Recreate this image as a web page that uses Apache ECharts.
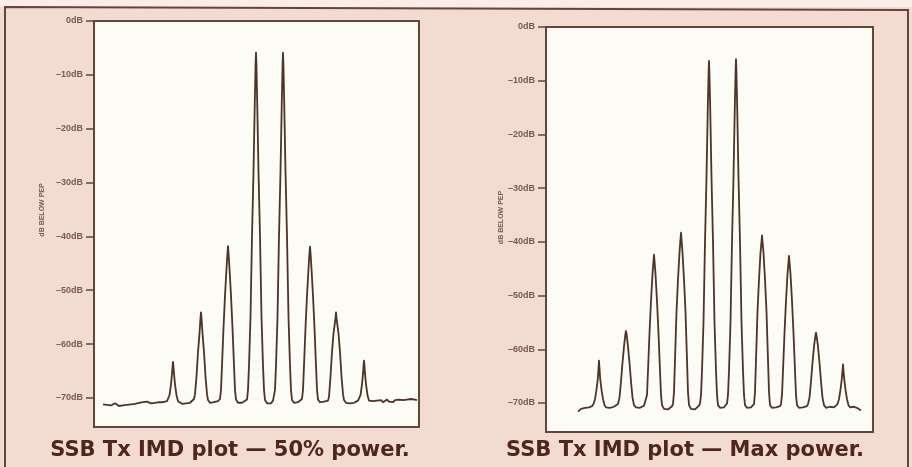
<!DOCTYPE html>
<html>
<head>
<meta charset="utf-8">
<script src="https://cdn.jsdelivr.net/npm/echarts@6/dist/echarts.min.js"></script>
<style>
  html, body { margin: 0; padding: 0; background: #f2dcd1; }
  #chart { width: 912px; height: 467px; }
</style>
</head>
<body>
<div id="chart"></div>
<script>
// ---- Data ----
// Titles / axis texts
const titles = ['SSB Tx IMD plot — 50% power.', 'SSB Tx IMD plot — Max power.'];
const yAxisNames = ['dB BELOW PEP', 'dB BELOW PEP'];
// Y tick values (dB below PEP)
const yTickValues = [0, -10, -20, -30, -40, -50, -60, -70];
const yMin = -75.4, yMax = 0;
// X spans (frequency bins across each plot)
const xSpanLeft = 325;
const xSpanRight = 327;

// Spectrum trace, 50% power: [frequency bin, dB]
const trace50 = [
  [9,-71.2],[11,-71.0],[13,-71.3],[15,-71.1],[17,-71.4],[19,-71.2],[21,-71.0],[23,-71.3],[25,-71.5],[27,-71.2],
  [29,-71.4],[31,-71.1],[33,-71.3],[35,-71.0],[37,-71.2],[39,-70.9],[41,-71.1],[43,-71.3],[45,-70.9],[47,-71.1],
  [49,-70.8],[51,-71.0],[53,-70.7],[55,-70.9],[57,-71.0],[59,-70.7],[61,-70.9],[63,-70.6],[65,-70.8],[67,-70.6],
  [69,-70.8],[71,-70.5],[73,-70.6],
  [74,-70.4],[75.5,-69.5],[77,-67.5],[78,-65.5],[78.7,-63.8],[79,-63.3],[79.3,-63.8],[80,-65.5],[81,-67.5],[82.5,-69.5],[84,-70.6],
  [86,-70.9],[88,-71.1],[90,-70.8],[92,-71.0],[94,-70.7],[96,-70.9],[98,-70.6],[100,-70.2],
  [101,-69.3],[102.5,-66],[104,-61.5],[105.5,-58],[106.5,-55.2],[107,-54.1],[107.5,-55.2],[108.5,-58],[110,-61.5],[111.5,-66],[113,-69.3],[114,-70.4],
  [116,-70.9],[118,-71.1],[120,-70.8],[122,-71.0],[124,-70.6],
  [126,-70.2],[127,-68.5],[128,-64],[129.5,-57],[131,-51],[132.5,-46],[133.5,-43],[134,-41.8],[134.5,-43],[135.5,-46],[137,-51],[138.5,-57],[140,-64],[141,-68.5],[142,-70.3],
  [144,-70.9],[146,-71.2],[148,-70.9],[150,-70.8],
  [153,-70.3],[154,-68.5],[155,-64],[156.5,-55],[158,-40],[159.5,-28],[160.8,-15],[161.6,-8],[162,-5.9],[162.4,-8],[163.2,-15],[164.5,-28],[166,-40],[167.5,-55],[169,-64],[170,-68.5],[171,-70.4],
  [173,-71.0],[175,-71.3],[177,-71.0],[179,-70.5],
  [180,-70.2],[181,-68.5],[182,-64],[183.5,-55],[185,-40],[186.5,-28],[187.8,-15],[188.6,-8],[189,-5.9],[189.4,-8],[190.2,-15],[191.5,-28],[193,-40],[194.5,-55],[196,-64],[197,-68.5],[198,-70.4],
  [200,-70.9],[202,-71.1],[204,-70.8],[206,-70.6],
  [208,-70.2],[209,-68.5],[210,-64],[211.5,-57],[213,-51],[214.5,-46],[215.5,-43],[216,-41.9],[216.5,-43],[217.5,-46],[219,-51],[220.5,-57],[222,-64],[223,-68.5],[224,-70.3],
  [226,-70.8],[228,-71.0],[230,-70.7],[232,-70.9],[234,-70.5],
  [235,-69.8],[236.5,-66],[238,-61.5],[239.5,-58],[241.5,-55.2],[242,-54.1],[242.5,-55.2],[244.5,-58],[246,-61.5],[247.5,-66],[249,-69.3],[250,-70.4],
  [252,-70.9],[254,-70.6],[256,-71.0],[258,-70.7],[260,-70.9],[262,-70.6],[264,-70.5],
  [265,-70.2],[266.5,-69.5],[268,-67.5],[269,-65.5],[269.7,-63.6],[270,-63.1],[270.3,-63.6],[271,-65.5],[272,-67.5],[273.5,-69.5],[275,-70.5],
  [277,-70.8],[279,-70.6],[281,-70.9],[283,-70.5],[285,-70.7],[287,-70.4],[289,-70.8],[291,-70.6],[293,-70.3],[295,-70.7],
  [297,-70.5],[299,-70.8],[301,-70.4],[303,-70.6],[305,-70.3],[307,-70.6],[309,-70.4],[311,-70.7],[313,-70.3],[315,-70.5],
  [317,-70.2],[319,-70.5],[321,-70.3],[323,-70.4]
];

// Spectrum trace, max power: [frequency bin, dB]
const traceMax = [
  [32,-71.6],[33,-71.4],[35,-71.1],[37,-71.2],[39,-70.9],[41,-71.1],[43,-70.8],[45,-70.9],[46,-70.6],
  [47.5,-70.2],[49,-69.3],[50.5,-67.5],[51.8,-65.5],[52.7,-63],[53,-62.1],[53.3,-63],[54.2,-65.5],[55.5,-67.5],[57,-69.3],[58.5,-70.4],
  [60,-70.8],[62,-71.0],[64,-70.9],[66,-70.9],[68,-70.7],[70,-70.6],
  [72,-70.2],[73.5,-69],[75,-66],[76.5,-62.5],[78,-59.5],[79.3,-57.3],[80,-56.6],[80.7,-57.3],[82,-59.5],[83.5,-62.5],[85,-66],[86.5,-69],[88,-70.4],
  [90,-70.8],[92,-71.0],[94,-70.9],[96,-70.8],[98,-70.5],
  [100,-70.2],[101,-68.5],[102,-64],[103.5,-57],[105,-51],[106.5,-46],[107.5,-43.5],[108,-42.4],[108.5,-43.5],[109.5,-46],[111,-51],[112.5,-57],[114,-64],[115,-68.5],[116,-70.4],
  [118,-71.1],[120,-71.3],[122,-71.2],[124,-70.9],[126,-70.6],
  [127,-70.2],[128,-68],[129,-62],[130.5,-53],[132,-47],[133.5,-42],[134.5,-39.5],[135,-38.3],[135.5,-39.5],[136.5,-42],[138,-47],[139.5,-53],[141,-62],[142,-68],[143,-70.4],
  [145,-71.1],[147,-71.3],[149,-71.2],[151,-70.9],[153,-70.5],
  [154,-70.1],[155,-68.5],[156,-64],[157.5,-55],[159,-40],[160.5,-28],[161.8,-15],[162.6,-8.5],[163,-6.3],[163.4,-8.5],[164.2,-15],[165.5,-28],[167,-40],[168.5,-55],[170,-64],[171,-68.5],[172,-70.4],
  [174,-70.9],[176,-71.0],[178,-70.8],[180,-70.5],
  [181,-70.1],[182,-68.5],[183,-64],[184.5,-55],[186,-40],[187.5,-28],[188.8,-15],[189.6,-8.2],[190,-6.0],[190.4,-8.2],[191.2,-15],[192.5,-28],[194,-40],[195.5,-55],[197,-64],[198,-68.5],[199,-70.4],
  [201,-70.9],[203,-71.0],[205,-70.8],[207,-70.5],
  [208,-70.2],[209,-68],[210,-62],[211.5,-53],[213,-47],[214.5,-42],[215.5,-40],[216,-38.8],[216.5,-40],[217.5,-42],[219,-47],[220.5,-53],[222,-62],[223,-68],[224,-70.4],
  [226,-70.9],[228,-71.0],[230,-70.8],[232,-70.9],[234,-70.6],
  [235,-70.2],[236,-68.5],[237,-64],[238.5,-57],[240,-51],[241.5,-46],[242.5,-43.7],[243,-42.6],[243.5,-43.7],[244.5,-46],[246,-51],[247.5,-57],[249,-64],[250,-68.5],[251,-70.4],
  [253,-70.9],[255,-71.0],[257,-70.8],[259,-70.9],[261,-70.6],
  [262,-70.2],[263.5,-69],[265,-66],[266.5,-62.5],[268,-59.5],[269.3,-57.6],[270,-56.9],[270.7,-57.6],[272,-59.5],[273.5,-62.5],[275,-66],[276.5,-69],[278,-70.4],
  [280,-70.9],[282,-71.0],[284,-70.7],[286,-70.9],[288,-70.8],[290,-70.6],
  [291.5,-70.2],[293,-69.3],[294.5,-67.5],[295.8,-65.5],[296.7,-63.6],[297,-62.8],[297.3,-63.6],[298.2,-65.5],[299.5,-67.5],[301,-69.3],[302.5,-70.4],
  [304,-70.8],[306,-70.9],[308,-70.7],[310,-70.9],[312,-71.0],[314,-71.2],[315,-71.4]
];

// ---- Styles ----
const INK = '#4e3327';
const FRAME = '#634539';
const LABEL = '#7a5a4d';
const TITLE = '#4f261b';

function yAxisFor(gridIndex, name, nameGap, shift) {
  return {
    type: 'value', gridIndex, min: yMin, max: yMax,
    name, nameLocation: 'middle', nameGap, nameRotate: 90,
    nameTextStyle: { fontSize: 7, fontWeight: 'bold', color: LABEL, fontFamily: 'Liberation Sans', padding: [0, 0, 0, shift] },
    axisLine: { show: true, lineStyle: { color: FRAME, width: 2 } },
    axisTick: { show: true, length: 8, inside: false, customValues: yTickValues, lineStyle: { color: FRAME, width: 1.5 } },
    axisLabel: {
      show: true, customValues: yTickValues, margin: 11, fontSize: 9, color: LABEL,
      fontFamily: 'Liberation Sans', fontWeight: 'bold',
      formatter: v => (v === 0 ? '0dB' : '\u2013' + Math.abs(v) + 'dB')
    },
    splitLine: { show: false }
  };
}
function xAxisFor(gridIndex, span) {
  return {
    type: 'value', gridIndex, min: 0, max: span,
    axisLine: { show: false }, axisTick: { show: false }, axisLabel: { show: false }, splitLine: { show: false }
  };
}

const chart = echarts.init(document.getElementById('chart'), null, { renderer: 'canvas' });
chart.setOption({
  backgroundColor: '#f2dcd1',
  animation: false,
  title: [
    { text: titles[0], left: 225, top: 435, textAlign: 'center',
      textStyle: { fontFamily: 'DejaVu Sans', fontWeight: 'bold', fontSize: 21, color: TITLE } },
    { text: titles[1], left: 680, top: 435, textAlign: 'center',
      textStyle: { fontFamily: 'DejaVu Sans', fontWeight: 'bold', fontSize: 21, color: TITLE } }
  ],
  graphic: [
    { type: 'rect', shape: { x: 0, y: 0, width: 912, height: 7 }, style: { fill: '#f8ede7' }, silent: true, z: -1 },
    { type: 'polyline', shape: { points: [[5, 467], [5, 7], [908, 10], [908, 467]] },
      style: { stroke: FRAME, lineWidth: 2, fill: null }, silent: true }
  ],
  grid: [
    { left: 94, top: 21, width: 325, height: 406, show: true, backgroundColor: '#fdfbf6', borderColor: FRAME, borderWidth: 2 },
    { left: 546, top: 27, width: 327, height: 405, show: true, backgroundColor: '#fdfbf6', borderColor: FRAME, borderWidth: 2 }
  ],
  xAxis: [xAxisFor(0, xSpanLeft), xAxisFor(1, xSpanRight)],
  yAxis: [yAxisFor(0, yAxisNames[0], 48, 28), yAxisFor(1, yAxisNames[1], 41, 24)],
  series: [
    { type: 'line', xAxisIndex: 0, yAxisIndex: 0, data: trace50, showSymbol: false, symbol: 'none',
      lineStyle: { color: INK, width: 1.8, join: 'round' } },
    { type: 'line', xAxisIndex: 1, yAxisIndex: 1, data: traceMax, showSymbol: false, symbol: 'none',
      lineStyle: { color: INK, width: 1.8, join: 'round' } }
  ]
});
</script>
</body>
</html>
